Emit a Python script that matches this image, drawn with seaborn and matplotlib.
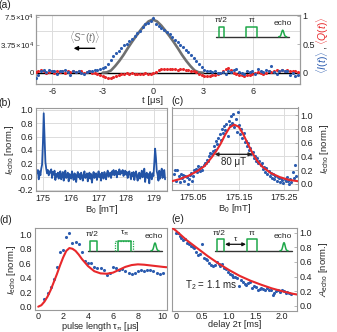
import numpy as np
import matplotlib
matplotlib.use('Agg')
import matplotlib.pyplot as plt
import seaborn as sns

# ---------------- data ----------------
# (a) time trace, right-axis units (normalised), left-axis counts for <S-(t)>
a_t_start, a_t_step = -7.0, 0.16
a_I = [-0.10, -0.05, 0.02, 0.04, 0.01, 0.04, 0.03, 0.02, -0.03, 0.03,
       0.02, 0.04, 0.01, -0.04, 0.02, 0.01, 0.03, -0.01, -0.02, 0.01,
       0.03, 0.02, 0.04, 0.05, 0.06, 0.08, 0.10, 0.15, 0.22, 0.30,
       0.34, 0.38, 0.43, 0.48, 0.51, 0.55, 0.60, 0.64, 0.69, 0.74,
       0.80, 0.85, 0.88, 0.91, 0.97, 0.86, 0.83, 0.78, 0.75, 0.72,
       0.68, 0.63, 0.58, 0.54, 0.49, 0.45, 0.40, 0.36, 0.31, 0.26,
       0.21, 0.15, 0.10, 0.05, 0.03, 0.02, 0.01, 0.02, -0.01, 0.00,
       0.01, -0.02, 0.03, 0.01, 0.04, 0.06, 0.01, 0.00, -0.02, 0.03,
       0.01, 0.02, -0.03, 0.06, 0.03, 0.01, 0.04, 0.02, 0.12, 0.01,
       -0.03, 0.03, 0.05, 0.03, 0.02, -0.04, 0.00, -0.07, -0.04]
a_Q = [0.01, 0.03, 0.05, 0.02, 0.00, 0.01, 0.02, 0.00, 0.02, 0.01,
       0.03, 0.00, 0.02, 0.01, 0.03, 0.01, 0.03, 0.02, 0.00, 0.01,
       0.02, 0.00, -0.01, -0.03, -0.05, -0.07, -0.08, -0.09, -0.10, -0.08,
       -0.06, -0.04, -0.03, -0.02, -0.01, -0.02, -0.01, -0.02, -0.03, -0.02,
       -0.03, -0.01, -0.03, -0.02, -0.01, 0.01, 0.04, 0.07, 0.07, 0.06,
       0.07, 0.06, 0.07, 0.05, 0.06, 0.07, 0.05, 0.04, 0.03, 0.02,
       0.01, -0.02, -0.04, -0.06, -0.07, -0.06, -0.05, -0.04, -0.02, 0.00,
       0.02, 0.06, 0.08, 0.04, -0.01, -0.02, -0.04, -0.05, -0.06, -0.04,
       -0.05, -0.03, -0.01, 0.01, 0.00, -0.02, 0.00, 0.02, 0.01, 0.03,
       0.04, 0.03, 0.04, 0.03, 0.04, 0.03, 0.02, 0.03, 0.01]
a_S_t = [-3.0, -2.75, -2.5, -2.25, -2.0, -1.75, -1.5, -1.25, -1.0, -0.75, -0.5, -0.25, 0.0,
         0.25, 0.5, 0.75, 1.0, 1.25, 1.5, 1.75, 2.0, 2.25, 2.5, 2.75, 3.0]
a_S = [0, 500, 3000, 9000, 16000, 24000, 33000, 41500, 49500, 57000, 64000, 69500, 72000,
       69500, 64000, 57000, 49500, 41500, 33000, 24000, 16000, 9000, 3000, 500, 0]

# (b) field sweep
b_start, b_step = 174.78, 0.03
b_I = [0.05, 0.10, -0.04, 0.08, 0.02, 0.12, 0.18, 0.50, 0.95, 0.60, 0.22, 0.12,
       0.05, 0.10, 0.02, 0.08, 0.06, 0.11, -0.02, 0.07, 0.03, 0.09, -0.05, 0.04, 0.00, 0.06, -0.03, 0.05, 0.08, -0.04, 0.02, 0.07,
       -0.06, 0.03, 0.09, -0.02, 0.01, 0.06, -0.07, 0.04, 0.02, -0.03, 0.08, 0.00, -0.05, 0.05, 0.03, -0.08, 0.02, 0.07, -0.01, 0.04,
       -0.04, 0.06, 0.01, -0.06, 0.03, 0.08, -0.02, 0.00, 0.05, -0.07, 0.02, 0.06, -0.03, 0.04, -0.09, 0.01, 0.07, -0.02, 0.03, 0.05,
       -0.05, 0.02, 0.08, -0.01, 0.04, -0.06, 0.06, 0.01, -0.03, 0.07, 0.02, -0.04, 0.05, 0.09, 0.00, 0.04, 0.06, -0.02, 0.08, 0.03,
       0.10, 0.02, 0.06, 0.09, -0.01, 0.07, 0.04, 0.11, 0.03, 0.08, 0.05, 0.10, 0.01, 0.06, 0.09, 0.03, 0.07, -0.02, 0.05, 0.08,
       0.02, -0.04, 0.06, 0.01, 0.07, -0.05, 0.03, 0.08, 0.00, -0.06, 0.04, 0.06, -0.03, 0.02, 0.09, -0.01, 0.05, 0.12, -0.08, 0.03,
       0.06, -0.02, 0.04, -0.10, 0.07, 0.02, -0.04, 0.05, 0.01,
       0.20, 0.42, 0.28, 0.08, 0.03, -0.06, 0.09, -0.03, 0.06, 0.12, -0.02, 0.05, 0.10, -0.04]

# (c) zoom on line
c_start, c_step = 175.008, 0.0025
c_I = [0.15, 0.20, 0.05, 0.20, 0.12, 0.03, 0.14, 0.08, 0.13, 0.05,
       0.12, 0.10, 0.00, 0.07, 0.13, 0.16, 0.04, 0.12, 0.21, 0.22,
       0.18, 0.26, 0.22, 0.19, 0.24, 0.20, 0.27, 0.31, 0.30, 0.35,
       0.33, 0.40, 0.45, 0.43, 0.48, 0.55, 0.50, 0.62, 0.58, 0.67,
       0.73, 0.64, 0.80, 0.74, 0.84, 0.78, 0.87, 0.70, 0.92, 0.85,
       0.98, 0.88, 1.02, 0.83, 0.94, 0.76, 1.04, 0.85, 0.72, 0.80,
       0.66, 0.74, 0.61, 0.63, 0.55, 0.60, 0.50, 0.52, 0.44, 0.47,
       0.38, 0.41, 0.33, 0.37, 0.30, 0.34, 0.27, 0.30, 0.22, 0.25,
       0.17, 0.23, 0.14, 0.19, 0.11, 0.16, 0.09, 0.14, 0.07, 0.12,
       0.05, 0.10, 0.08, 0.03, 0.09, 0.06, 0.02, 0.07, 0.04, 0.10,
       0.05, 0.00, 0.07, 0.03, 0.18, 0.08, 0.27, 0.12]
c_fit_B = [175.003, 175.02, 175.04, 175.06, 175.075, 175.09, 175.10, 175.11, 175.12, 175.13,
           175.14, 175.15, 175.16, 175.17, 175.18, 175.19, 175.20, 175.22, 175.24, 175.26, 175.28]
c_fit_I = [0.04, 0.07, 0.12, 0.19, 0.26, 0.38, 0.47, 0.58, 0.71, 0.82,
           0.86, 0.83, 0.72, 0.58, 0.45, 0.34, 0.26, 0.16, 0.10, 0.06, 0.04]

# (d) Rabi
d_tau = [0.5, 0.75, 1.0, 1.25, 1.5, 1.75, 2.0, 2.25, 2.5, 2.75, 3.0, 3.25, 3.5, 3.75, 4.0,
         4.25, 4.5, 4.75, 5.0, 5.25, 5.5, 5.75, 6.0, 6.25, 6.5, 6.75, 7.0, 7.25, 7.5, 7.75,
         8.0, 8.25, 8.5, 8.75, 9.0, 9.25, 9.5, 9.75, 10.0]
d_I = [0.10, 0.19, 0.27, 0.38, 0.55, 0.76, 0.79, 0.96, 1.02, 0.88, 0.90, 0.86, 0.75, 0.63, 0.61,
       0.60, 0.55, 0.54, 0.53, 0.50, 0.44, 0.47, 0.55, 0.53, 0.51, 0.52, 0.49, 0.47, 0.45, 0.47,
       0.49, 0.50, 0.49, 0.50, 0.50, 0.49, 0.46, 0.45, 0.47]
d_fit_tau = [0.0, 0.25, 0.5, 0.75, 1.0, 1.25, 1.5, 1.75, 2.0, 2.25, 2.5, 2.75, 3.0, 3.25, 3.5,
             3.75, 4.0, 4.5, 5.0, 5.5, 6.0, 6.5, 7.0, 7.5, 8.0, 8.5, 9.0, 9.5, 10.0, 10.3]
d_fit_I = [0.0, 0.02, 0.07, 0.14, 0.23, 0.34, 0.45, 0.57, 0.68, 0.77, 0.81, 0.80, 0.77, 0.72, 0.66,
           0.61, 0.56, 0.49, 0.46, 0.455, 0.47, 0.51, 0.55, 0.575, 0.585, 0.58, 0.57, 0.56, 0.55, 0.545]

# (e) Hahn echo decay
e_start, e_step = 0.0, 0.035
e_A = [1.00, 0.99, 0.96, 0.93, 0.90, 0.91, 0.86, 0.84, 0.82, 0.80,
       0.79, 0.73, 0.70, 0.71, 0.84, 0.66, 0.64, 0.63, 0.59, 0.56,
       0.54, 0.56, 0.60, 0.57, 0.55, 0.57, 0.52, 0.50, 0.46, 0.44,
       0.42, 0.40, 0.39, 0.38, 0.27, 0.35, 0.33, 0.30, 0.29, 0.31,
       0.32, 0.25, 0.27, 0.26, 0.22, 0.23, 0.24, 0.23, 0.22, 0.24,
       0.21, 0.22, 0.15, 0.18, 0.20, 0.21, 0.19, 0.21, 0.20, 0.18,
       0.19, 0.17, 0.16]
e_fit_x = [-0.077, 0.0, 0.2, 0.4, 0.6, 0.8, 1.0, 1.2, 1.4, 1.6, 1.8, 2.0, 2.2, 2.28]
e_fit_A = [1.07, 1.03, 0.90, 0.79, 0.68, 0.58, 0.49, 0.41, 0.345, 0.29, 0.24, 0.20, 0.165, 0.155]

# ---------------- style ----------------
sns.set_theme(style='white')
plt.rcParams['font.family'] = ['Liberation Sans', 'DejaVu Sans']
plt.rcParams['mathtext.fontset'] = 'custom'
plt.rcParams['mathtext.rm'] = 'Liberation Sans'
plt.rcParams['mathtext.it'] = 'Liberation Sans:italic'
plt.rcParams['mathtext.bf'] = 'Liberation Sans:bold'
plt.rcParams['axes.unicode_minus'] = False

BLUE = '#2c5caf'
BLUE_LINE = '#2354a6'
RED = '#e8282b'
GREEN = '#1fa84a'
GRAY = '#6f6f6f'
GRID = '#dcdcdc'
SPINE = '#9a9a9a'
TFS = 6.5
LFS = 6.8

W, H = 337, 332
fig = plt.figure(figsize=(W / 100, H / 100), dpi=100)


def rect(x0, y0, x1, y1):
    return [x0 / W, 1 - y1 / H, (x1 - x0) / W, (y1 - y0) / H]


def style(ax):
    for s in ax.spines.values():
        s.set_color(SPINE)
        s.set_linewidth(0.8)
    ax.tick_params(which='major', direction='in', length=2, width=0.5, color=SPINE,
                   labelsize=TFS, pad=2, labelcolor='#222222')


# ---- (a) ----
axA = fig.add_axes(rect(35.7, 15, 300, 84))
axA2 = axA.twinx()
ta = a_t_start + a_t_step * np.arange(len(a_I))
sns.lineplot(x=a_S_t, y=a_S, ax=axA, color='#707070', lw=1.9, estimator=None, sort=False)
axA.axhline(0, color='black', lw=1.0, zorder=1)
sns.scatterplot(x=ta, y=a_Q, ax=axA2, color=RED, s=5, linewidth=0, zorder=3)
sns.scatterplot(x=ta, y=a_I, ax=axA2, color=BLUE, s=5, linewidth=0, zorder=3)
axA.set_xlim(-7, 8.8)
axA.set_ylim(-1.53e4, 7.81e4)
axA2.set_ylim(-0.203, 1.016)
axA.set_xticks([-6, -3, 0, 3, 6])
axA.set_yticks([0, 3.75e4, 7.5e4])
axA.set_yticklabels(['0', r'$3.75\!\times\!10^{4}$', r'$7.5\!\times\!10^{4}$'])
axA.set_yticks([1.875e4, 5.625e4], minor=True)
axA.tick_params(which='minor', length=0)
axA.grid(True, axis='x', color=GRID, lw=0.7)
axA.grid(True, axis='y', which='minor', color=GRID, lw=0.7)
axA2.set_yticks([0, 0.5, 1])
axA2.set_yticklabels(['0', '0.5', '1'])
axA.set_xlabel('t [μs]', fontsize=LFS, labelpad=0)
# centre the axis title under t = 0, as in the original
axA.xaxis.label.set_x((0 - (-7)) / (8.8 - (-7)))
axA.set_ylabel('')
axA2.set_ylabel('')
style(axA)
style(axA2)
axA.tick_params(axis='y', pad=1.2)
for lab in axA.get_yticklabels():
    lab.set_fontsize(5.7)
axA.annotate('', xy=(-4.9, 3.3e4), xytext=(-3.3, 3.3e4),
             arrowprops=dict(arrowstyle='-|>', color='black', lw=1.0, mutation_scale=6))
axA.text(-4.1, 4.75e4, r'$\langle S^{-}(t)\rangle$', color=GRAY, fontsize=7, ha='center', va='center')

# ---- (b) ----
axB = fig.add_axes(rect(35.7, 107.5, 167.3, 191))
bx = b_start + b_step * np.arange(len(b_I))
sns.lineplot(x=bx, y=b_I, ax=axB, color=BLUE_LINE, lw=1.3, estimator=None, sort=False)
axB.set_xlim(174.73, 179.48)
axB.set_ylim(-0.215, 1.037)
axB.set_xticks([175, 176, 177, 178, 179])
axB.set_yticks([-0.2, 0.0, 0.2, 0.4, 0.6, 0.8, 1.0])
axB.set_yticklabels(['-0.2', '0.0', '0.2', '0.4', '0.6', '0.8', '1.0'])
axB.grid(True, color=GRID, lw=0.7)
axB.set_xlabel(r'B$_0$ [mT]', fontsize=LFS, labelpad=0.5)
axB.set_ylabel(r'$I_{\mathrm{echo}}$ [norm.]', fontsize=LFS, labelpad=1)
style(axB)

# ---- (c) ----
axC = fig.add_axes(rect(171.7, 107.5, 298, 190))
cx = c_start + c_step * np.arange(len(c_I))
sns.scatterplot(x=cx, y=c_I, ax=axC, color=BLUE, s=5, linewidth=0, zorder=3)
sns.lineplot(x=c_fit_B, y=c_fit_I, ax=axC, color=RED, lw=1.5, estimator=None, sort=False, zorder=4)
axC.set_xlim(175.003, 175.28)
axC.set_ylim(-0.087, 1.109)
axC.set_xticks([175.05, 175.15, 175.25])
axC.set_xticklabels(['175.05', '175.15', '175.25'])
axC.set_yticks([0.0, 0.2, 0.4, 0.6, 0.8, 1.0])
axC.yaxis.tick_right()
axC.yaxis.set_label_position('right')
axC.grid(True, color=GRID, lw=0.7)
axC.set_xlabel(r'B$_0$ [mT]', fontsize=LFS, labelpad=0.5)
axC.set_ylabel(r'$I_{\mathrm{echo}}$ [norm.]', fontsize=LFS, labelpad=3)
style(axC)
axC.annotate('', xy=(175.097, 0.43), xytext=(175.18, 0.43),
             arrowprops=dict(arrowstyle='<|-|>', color='#222222', lw=1.0, mutation_scale=5,
                             shrinkA=0, shrinkB=0), zorder=5)
axC.text(175.139, 0.32, '80 μT', fontsize=7, ha='center', va='center', color='#222222')

# ---- (d) ----
axD = fig.add_axes(rect(34.5, 228.3, 166.5, 310))
sns.scatterplot(x=d_tau, y=d_I, ax=axD, color=BLUE, s=5, linewidth=0, zorder=3)
sns.lineplot(x=d_fit_tau, y=d_fit_I, ax=axD, color=RED, lw=1.5, estimator=None, sort=False, zorder=4)
axD.set_xlim(-0.3, 10.3)
axD.set_ylim(-0.046, 1.083)
axD.set_xticks([0, 2, 4, 6, 8, 10])
axD.set_yticks([0.0, 0.2, 0.4, 0.6, 0.8, 1.0])
axD.set_xlabel(r'pulse length $\mathrm{\tau}_{\mathrm{\pi}}$ [μs]', fontsize=6.6, labelpad=-0.6)
axD.set_ylabel(r'$I_{\mathrm{echo}}$ [norm.]', fontsize=LFS, labelpad=1)
style(axD)
axD.tick_params(axis='x', pad=1.3)

# ---- (e) ----
axE = fig.add_axes(rect(171.7, 228, 297, 310.5))
ex = e_start + e_step * np.arange(len(e_A))
sns.scatterplot(x=ex, y=e_A, ax=axE, color=BLUE, s=5, linewidth=0, zorder=3)
sns.lineplot(x=e_fit_x, y=e_fit_A, ax=axE, color=RED, lw=1.5, estimator=None, sort=False, zorder=4)
axE.set_xlim(-0.077, 2.28)
axE.set_ylim(-0.064, 1.064)
axE.set_xticks([0, 0.5, 1.0, 1.5, 2.0])
axE.set_xticklabels(['0', '0.5', '1.0', '1.5', '2.0'])
axE.set_yticks([0.0, 0.2, 0.4, 0.6, 0.8, 1.0])
axE.yaxis.tick_right()
axE.yaxis.set_label_position('right')
axE.set_xlabel('delay 2τ [ms]', fontsize=6.6, labelpad=-0.6)
axE.set_ylabel(r'$A_{\mathrm{echo}}$ [norm.]', fontsize=LFS, labelpad=3)
style(axE)
axE.tick_params(axis='x', pad=1.3)
axE.text(0.17, 0.28, r'T$_2$ = 1.1 ms', fontsize=7, ha='left', va='center', color='#222222')

# ---------------- overlay (pixel coordinates) for schematics and labels ----------------
ov = fig.add_axes([0, 0, 1, 1], zorder=10)
ov.set_xlim(0, W)
ov.set_ylim(H, 0)
ov.axis('off')
ov.patch.set_alpha(0)


def schematic(x0, x1, yb, top, pulses, echo_c, echo_peak, dashed=None):
    ov.plot([x0, x1], [yb, yb], color='#333333', lw=1.0)
    for p0, p1 in pulses:
        ov.plot([p0, p0, p1, p1], [yb, top, top, yb], color=GREEN, lw=1.1)
    g = np.linspace(echo_c - 4, echo_c + 4, 40)
    ov.plot(g, yb - (yb - echo_peak) * np.exp(-((g - echo_c) / 1.6) ** 2), color=GREEN, lw=1.1)
    if dashed is not None:
        d0, d1 = dashed
        ov.plot([d0, d0, d1, d1], [yb, top, top, yb], color=GREEN, lw=0.9, ls=(0, (1, 1)))


sfs = 6
# (a)
schematic(216, 289.3, 36.7, 26.7, [(219, 224.3), (246.3, 257.3)], 282.7, 30.2)
ov.text(221.5, 21, 'π/2', fontsize=sfs, ha='center', va='center')
ov.text(251.8, 21, 'π', fontsize=sfs, ha='center', va='center')
ov.text(282.5, 23.5, 'echo', fontsize=sfs, ha='center', va='center')
# (d)
schematic(88.3, 162.3, 250.7, 240.7, [(90, 96.7), (118.3, 130.7)], 155, 243.0, dashed=(115, 133.3))
ov.text(92.5, 234.5, 'π/2', fontsize=sfs, ha='center', va='center')
ov.text(124.5, 233.5, r'$\mathrm{\tau}_{\mathrm{\pi}}$', fontsize=sfs, ha='center', va='center')
ov.text(154, 236.5, 'echo', fontsize=sfs, ha='center', va='center')
# (e)
schematic(215, 291.7, 250.7, 239.3, [(217.3, 224), (246.7, 256.7)], 284, 242.7)
ov.annotate('', xy=(225, 244.3), xytext=(246, 244.3),
            arrowprops=dict(arrowstyle='<|-|>', color='#111111', lw=0.9, mutation_scale=5,
                            shrinkA=0, shrinkB=0))
ov.text(219, 233.5, 'π/2', fontsize=sfs, ha='center', va='center')
ov.text(236, 239.5, 'τ', fontsize=sfs, ha='center', va='center')
ov.text(252, 233.5, 'π', fontsize=sfs, ha='center', va='center')
ov.text(283, 236, 'echo', fontsize=sfs, ha='center', va='center')

# right label of (a)
ov.text(323, 62, r'$\langle I(t)\rangle$', color=BLUE, fontsize=7.5, rotation=90, ha='center', va='center')
ov.text(323, 47.5, ',', color='#222222', fontsize=7.5, rotation=90, ha='center', va='center')
ov.text(323, 31, r'$\langle Q(t)\rangle$', color=RED, fontsize=7.5, rotation=90, ha='center', va='center')

# panel labels
for lbl, (x, y) in {'(a)': (5, 5), '(b)': (5, 103), '(c)': (178, 101),
                    '(d)': (6, 220), '(e)': (178, 219)}.items():
    ov.text(x, y, lbl, fontsize=7.5, ha='center', va='center', color='#222222')

fig.savefig('out.png', dpi=100)
